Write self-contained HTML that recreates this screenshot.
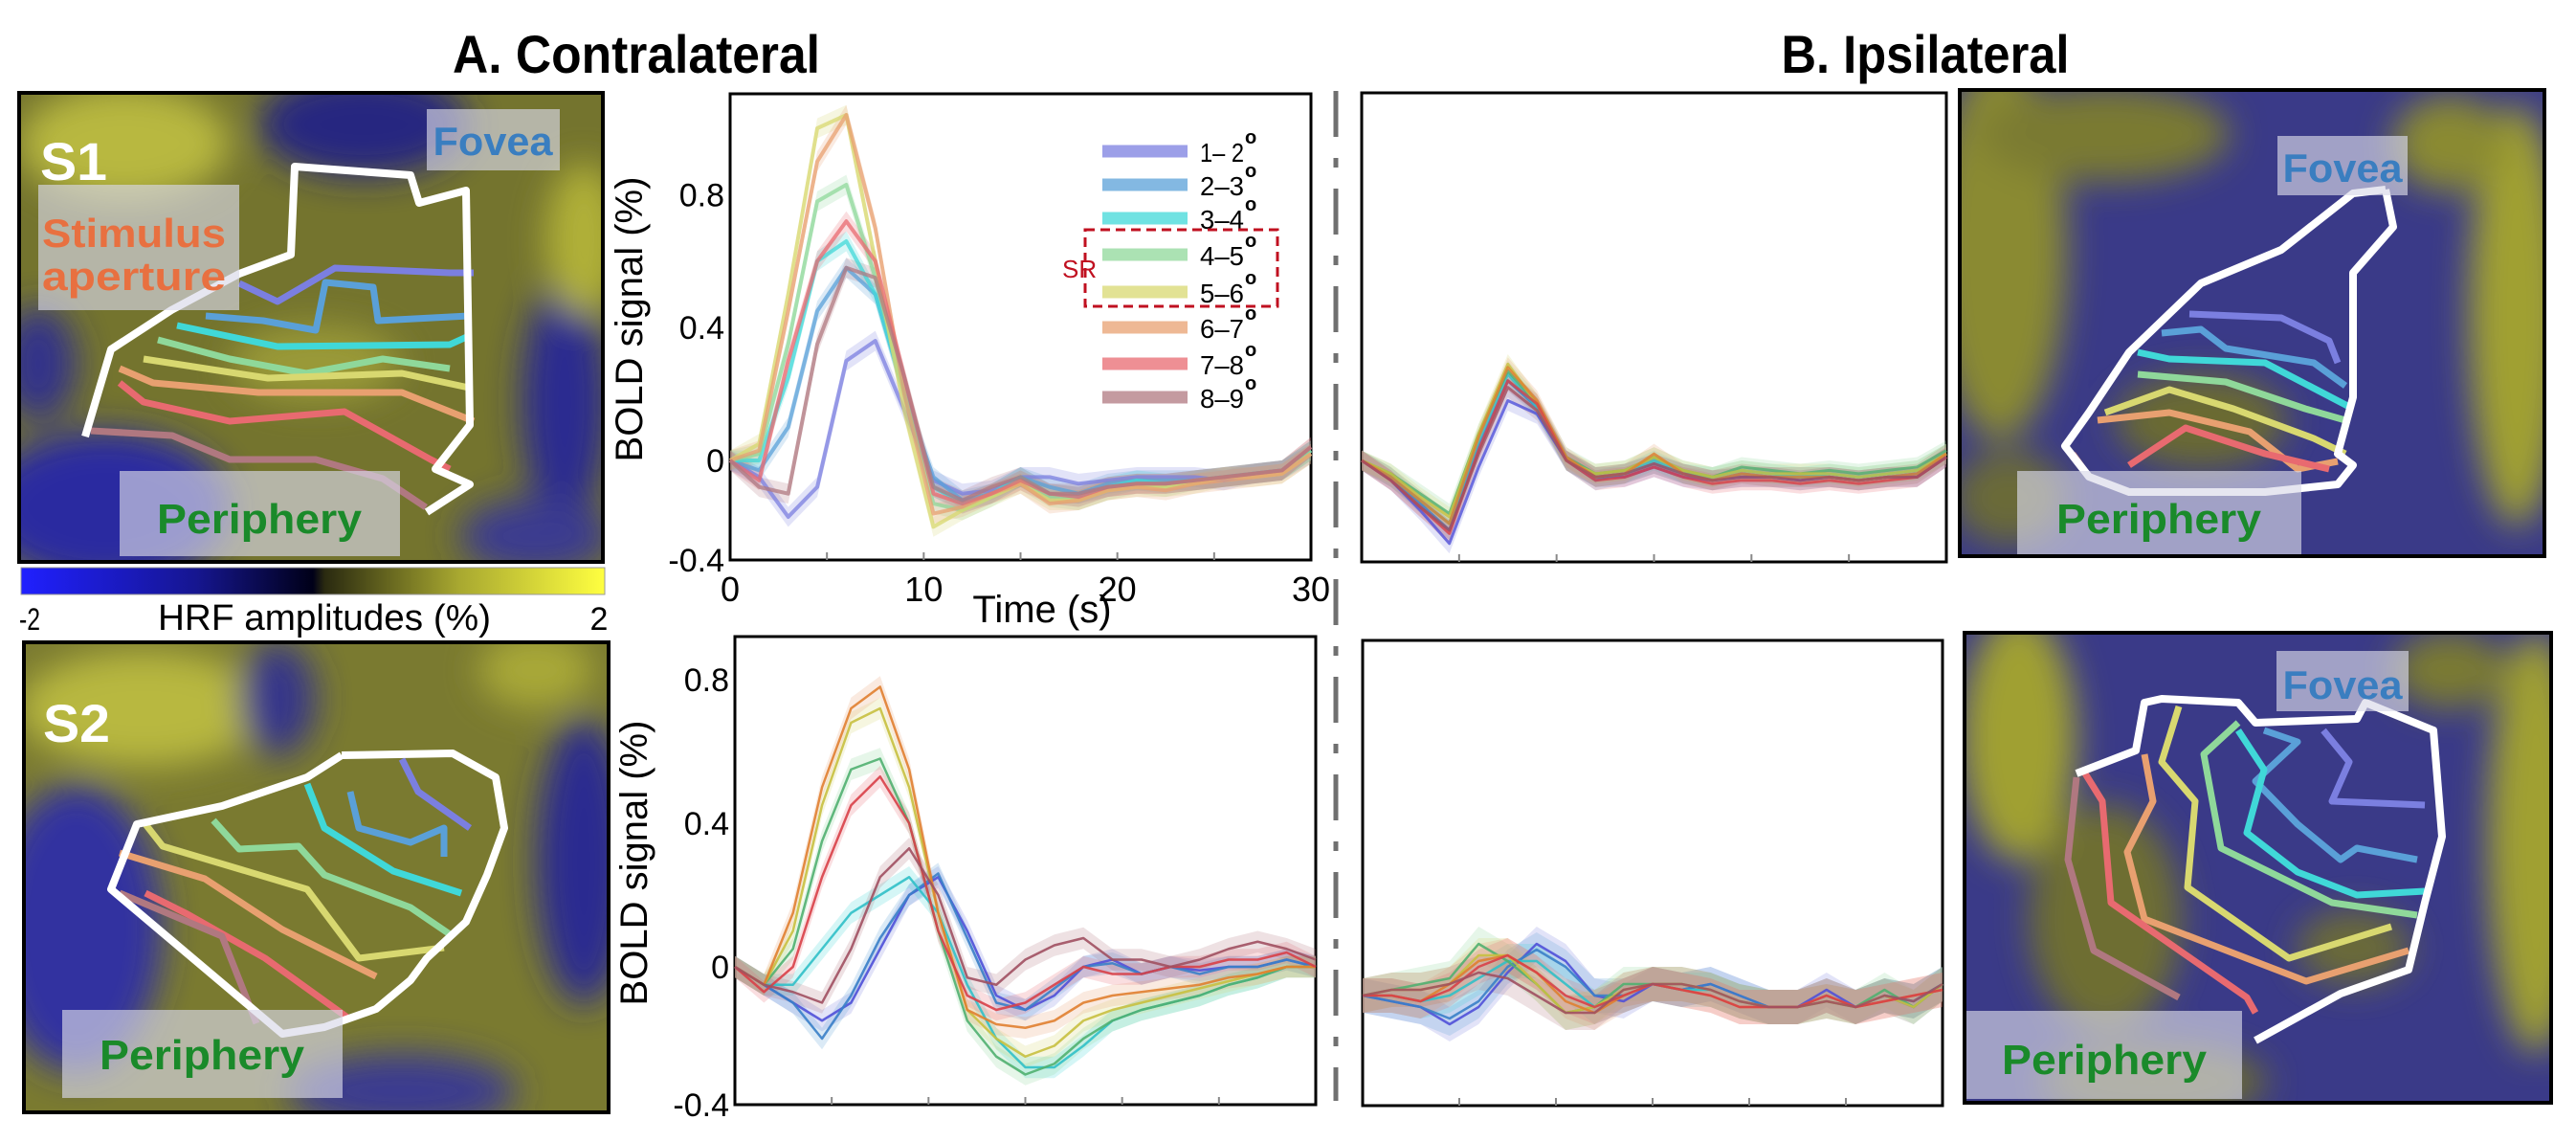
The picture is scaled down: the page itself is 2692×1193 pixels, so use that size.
<!DOCTYPE html>
<html><head><meta charset="utf-8">
<style>
html,body{margin:0;padding:0;background:#fff;}
svg{display:block;}
text{font-family:"Liberation Sans",sans-serif;}
</style></head>
<body>
<svg id="fig" width="2692" height="1193" viewBox="0 0 2692 1193" xmlns="http://www.w3.org/2000/svg">
<defs>
<filter id="blur" x="-50%" y="-50%" width="200%" height="200%"><feGaussianBlur stdDeviation="18"/></filter>
<clipPath id="c1"><rect x="20" y="97" width="610" height="490"/></clipPath>
<clipPath id="c2"><rect x="25" y="671" width="611" height="491"/></clipPath>
<clipPath id="c3"><rect x="2048" y="94" width="611" height="487"/></clipPath>
<clipPath id="c4"><rect x="2053" y="661" width="613" height="491"/></clipPath>
<linearGradient id="cbar" x1="0" x2="1" y1="0" y2="0">
<stop offset="0" stop-color="#2020ff"/><stop offset="0.3" stop-color="#161690"/><stop offset="0.5" stop-color="#000018"/><stop offset="0.52" stop-color="#2a2a10"/><stop offset="0.75" stop-color="#a8a830"/><stop offset="1" stop-color="#ffff40"/>
</linearGradient>
</defs>
<text x="665" y="76" font-size="56" font-weight="bold" text-anchor="middle" textLength="384" lengthAdjust="spacingAndGlyphs">A. Contralateral</text>
<text x="2012" y="76" font-size="56" font-weight="bold" text-anchor="middle" textLength="301" lengthAdjust="spacingAndGlyphs">B. Ipsilateral</text>
<line x1="1396" y1="95" x2="1396" y2="1150" stroke="#707070" stroke-width="5" stroke-dasharray="48,22,10,22"/>
<g id="maps"></g>
<g id="charts"></g>
<rect x="22" y="593" width="610" height="28" fill="url(#cbar)" stroke="#999" stroke-width="1"/>
<text x="20" y="658" font-size="32" textLength="22" lengthAdjust="spacingAndGlyphs">-2</text>
<text x="339" y="658" font-size="38" text-anchor="middle" textLength="348" lengthAdjust="spacingAndGlyphs">HRF amplitudes (%)</text>
<text x="626" y="658" font-size="34" text-anchor="middle">2</text>
</svg>
<script>
// ---- Data ----
const times = [0,1.5,3,4.5,6,7.5,9,10.5,12,13.5,15,16.5,18,19.5,21,22.5,24,25.5,27,28.5,30];
const eccLabels = ['1– 2','2–3','3–4','4–5','5–6','6–7','7–8','8–9'];
const xTicks = [0,10,20,30];
const yTicks = [-0.4,0,0.4,0.8];

const topContra1 = [0,-0.05,-0.17,-0.08,0.3,0.36,0.15,-0.06,-0.1,-0.09,-0.05,-0.05,-0.07,-0.06,-0.05,-0.05,-0.05,-0.06,-0.04,-0.03,0.02];
const topContra2 = [0,-0.03,0.1,0.45,0.58,0.5,0.2,-0.05,-0.12,-0.1,-0.05,-0.08,-0.1,-0.07,-0.06,-0.06,-0.06,-0.05,-0.04,-0.03,0.03];
const topContra3 = [0,0,0.25,0.6,0.66,0.5,0.2,-0.08,-0.13,-0.1,-0.05,-0.1,-0.11,-0.08,-0.06,-0.07,-0.06,-0.05,-0.04,-0.03,0.03];
const topContra4 = [0,0.02,0.35,0.78,0.83,0.55,0.2,-0.13,-0.15,-0.11,-0.06,-0.11,-0.12,-0.09,-0.07,-0.08,-0.06,-0.05,-0.04,-0.03,0.03];
const topContra5 = [0,0.05,0.5,1.0,1.04,0.6,0.15,-0.2,-0.15,-0.11,-0.07,-0.12,-0.12,-0.09,-0.08,-0.08,-0.07,-0.05,-0.05,-0.04,0.02];
const topContra6 = [0,0.03,0.45,0.9,1.04,0.7,0.2,-0.16,-0.14,-0.1,-0.07,-0.13,-0.12,-0.09,-0.08,-0.09,-0.07,-0.06,-0.05,-0.04,0.02];
const topContra7 = [0,-0.06,0.3,0.6,0.72,0.6,0.25,-0.1,-0.13,-0.1,-0.06,-0.1,-0.11,-0.08,-0.07,-0.07,-0.06,-0.05,-0.04,-0.03,0.04];
const topContra8 = [0,-0.08,-0.1,0.35,0.58,0.55,0.25,-0.08,-0.12,-0.08,-0.05,-0.1,-0.1,-0.08,-0.07,-0.07,-0.06,-0.05,-0.04,-0.03,0.04];

const topIpsi1 = [0,-0.06,-0.15,-0.25,-0.02,0.18,0.14,0.0,-0.05,-0.05,-0.02,-0.05,-0.06,-0.05,-0.05,-0.06,-0.05,-0.06,-0.05,-0.05,0.01];
const topIpsi2 = [0,-0.05,-0.13,-0.21,0.04,0.24,0.16,0.0,-0.06,-0.04,-0.01,-0.04,-0.06,-0.04,-0.05,-0.05,-0.05,-0.06,-0.05,-0.04,0.02];
const topIpsi3 = [0,-0.05,-0.12,-0.19,0.06,0.26,0.16,0.0,-0.05,-0.04,0.0,-0.04,-0.05,-0.03,-0.04,-0.05,-0.04,-0.05,-0.04,-0.03,0.02];
const topIpsi4 = [0,-0.04,-0.1,-0.16,0.08,0.27,0.17,0.01,-0.04,-0.03,0.01,-0.03,-0.05,-0.02,-0.03,-0.04,-0.03,-0.04,-0.03,-0.02,0.03];
const topIpsi5 = [0,-0.04,-0.11,-0.17,0.08,0.29,0.17,0.0,-0.04,-0.03,0.01,-0.03,-0.05,-0.03,-0.04,-0.04,-0.04,-0.05,-0.04,-0.03,0.02];
const topIpsi6 = [0,-0.05,-0.12,-0.19,0.07,0.28,0.18,0.01,-0.05,-0.04,0.02,-0.04,-0.06,-0.04,-0.05,-0.05,-0.05,-0.06,-0.05,-0.04,0.02];
const topIpsi7 = [0,-0.06,-0.14,-0.22,0.03,0.24,0.17,0.0,-0.06,-0.05,-0.02,-0.05,-0.07,-0.06,-0.06,-0.07,-0.06,-0.07,-0.06,-0.05,0.01];
const topIpsi8 = [0,-0.06,-0.14,-0.21,0.02,0.22,0.15,0.0,-0.05,-0.04,-0.01,-0.04,-0.06,-0.05,-0.05,-0.06,-0.05,-0.06,-0.05,-0.05,0.01];

const botContra1 = [0,-0.05,-0.1,-0.15,-0.1,0.05,0.2,0.25,0.1,-0.08,-0.12,-0.08,0.0,0.02,-0.02,0.0,-0.01,0.0,0.0,0.02,0.0];
const botContra2 = [0,-0.05,-0.1,-0.2,-0.08,0.08,0.2,0.26,0.08,-0.1,-0.12,-0.06,0.0,0.01,-0.02,0.0,-0.02,0.0,0.0,0.02,0.0];
const botContra3 = [0,-0.05,-0.05,0.05,0.15,0.2,0.25,0.15,-0.05,-0.2,-0.28,-0.28,-0.22,-0.15,-0.12,-0.1,-0.08,-0.05,-0.03,0.0,0.0];
const botContra4 = [0,-0.05,0.05,0.35,0.55,0.58,0.4,0.1,-0.15,-0.25,-0.3,-0.27,-0.2,-0.15,-0.12,-0.1,-0.08,-0.05,-0.03,0.0,0.0];
const botContra5 = [0,-0.05,0.1,0.45,0.68,0.72,0.5,0.15,-0.12,-0.2,-0.25,-0.22,-0.15,-0.12,-0.1,-0.08,-0.06,-0.04,-0.02,0.0,0.0];
const botContra6 = [0,-0.05,0.15,0.5,0.72,0.78,0.55,0.15,-0.12,-0.16,-0.17,-0.15,-0.1,-0.08,-0.07,-0.06,-0.05,-0.03,-0.02,0.0,0.0];
const botContra7 = [0,-0.07,0.0,0.25,0.45,0.53,0.4,0.1,-0.08,-0.12,-0.1,-0.05,0.0,-0.02,-0.02,0.0,0.0,0.02,0.02,0.04,0.0];
const botContra8 = [0,-0.05,-0.07,-0.1,0.05,0.25,0.33,0.2,-0.03,-0.05,0.02,0.06,0.08,0.02,0.02,0.0,0.02,0.05,0.07,0.05,0.02];

const botIpsi1 = [0,-0.01,-0.02,-0.05,-0.02,0.04,0.09,0.06,0.0,-0.01,0.02,0.01,0.02,0.0,-0.02,-0.02,0.01,-0.02,0.0,-0.02,0.02];
const botIpsi2 = [0,-0.01,-0.02,-0.04,-0.01,0.05,0.08,0.05,0.0,0.0,0.02,0.01,0.02,0.0,-0.02,-0.02,0.0,-0.02,0.0,-0.01,0.02];
const botIpsi3 = [0,0.0,-0.01,0.0,0.03,0.06,0.06,0.02,-0.02,0.0,0.02,0.01,0.01,-0.01,-0.02,-0.02,0.0,-0.02,0.0,-0.01,0.02];
const botIpsi4 = [0,0.01,0.02,0.03,0.09,0.06,0.02,-0.03,-0.02,0.02,0.02,0.02,0.01,-0.01,-0.02,-0.02,-0.01,-0.02,0.01,-0.02,0.02];
const botIpsi5 = [0,0.01,0.01,0.02,0.07,0.07,0.02,-0.03,-0.02,0.01,0.02,0.02,0.01,-0.01,-0.02,-0.02,-0.01,-0.02,0.0,-0.02,0.02];
const botIpsi6 = [0,0.0,-0.01,0.02,0.06,0.07,0.04,-0.01,-0.03,0.0,0.02,0.01,0.0,-0.02,-0.02,-0.02,0.0,-0.02,-0.01,0.0,0.01];
const botIpsi7 = [0,0.0,-0.01,0.01,0.05,0.07,0.04,0.0,-0.02,0.0,0.02,0.01,0.0,-0.02,-0.02,-0.02,0.0,-0.02,-0.01,0.0,0.01];
const botIpsi8 = [0,0.01,0.01,0.02,0.04,0.03,0.0,-0.03,-0.03,0.01,0.02,0.02,0.01,-0.01,-0.02,-0.02,-0.01,-0.02,0.0,-0.01,0.02];

const NS='http://www.w3.org/2000/svg';
const bandColors=['#7b7fe0','#5aa0d8','#40d8d8','#8fd89a','#d8d870','#e8a070','#e86a70','#b07880'];
const lineColors=['#5050d8','#3a80c8','#30c0c8','#50b070','#c8c040','#e08030','#d84048','#a05060'];
function mk(tag,attrs,parent){const e=document.createElementNS(NS,tag);for(const k in attrs)e.setAttribute(k,attrs[k]);if(parent)parent.appendChild(e);return e;}

const charts=[
 {name:'top-contralateral-chart',series:[topContra1,topContra2,topContra3,topContra4,topContra5,topContra6,topContra7,topContra8],x0:763,x1:1370,top:98,bottom:585,zero:481,ppu:347,labels:true,legend:true,lw:4,lop:0.75},
 {name:'top-ipsilateral-chart',series:[topIpsi1,topIpsi2,topIpsi3,topIpsi4,topIpsi5,topIpsi6,topIpsi7,topIpsi8],x0:1423,x1:2034,top:97,bottom:587,zero:481,ppu:347,labels:false,lw:3,lop:0.8},
 {name:'bottom-contralateral-chart',series:[botContra1,botContra2,botContra3,botContra4,botContra5,botContra6,botContra7,botContra8],x0:768,x1:1375,top:665,bottom:1154,zero:1010,ppu:375,labels:true,noX:true,lw:2.5,lop:0.9},
 {name:'bottom-ipsilateral-chart',series:[botIpsi1,botIpsi2,botIpsi3,botIpsi4,botIpsi5,botIpsi6,botIpsi7,botIpsi8],x0:1424,x1:2030,top:669,bottom:1155,zero:1040,ppu:600,labels:false,lw:2.5,lop:0.9}
];
const chartsG=document.getElementById('charts');
charts.forEach(c=>{
 const g=mk('g',{},chartsG);
 
 
 const xs=t=>c.x0+(c.x1-c.x0)*t/30;
 const ys=v=>c.zero-v*c.ppu;
 const box=mk('rect',{x:c.x0,y:c.top,width:c.x1-c.x0,height:c.bottom-c.top,fill:'#fff',stroke:'#000','stroke-width':3},g);
 
 
 for(let t=5;t<30;t+=5){
  const tk=mk('line',{x1:xs(t),x2:xs(t),y1:c.bottom,y2:c.bottom-8,stroke:'#888','stroke-width':2},g);
  
  
 }
 c.series.forEach((s,i)=>{
  const up=s.map((v,k)=>xs(times[k])+','+ys(v+0.03)).join(' ');
  const dn=s.map((v,k)=>xs(times[k])+','+ys(v-0.03)).reverse().join(' ');
  const band=mk('polygon',{points:up+' '+dn,fill:bandColors[i],'fill-opacity':0.22},g);
  
  
 });
 c.series.forEach((s,i)=>{
  const pts=s.map((v,k)=>xs(times[k])+','+ys(v)).join(' ');
  const ln=mk('polyline',{points:pts,fill:'none',stroke:c.legend?bandColors[i]:lineColors[i],'stroke-width':c.lw,'stroke-opacity':c.lop,'stroke-linejoin':'round'},g);
  
  
 });
 if(c.labels){
  yTicks.forEach(v=>{
   const y=Math.min(ys(v),c.bottom);
   const tl=mk('text',{x:c.x0-6,y:y+12,'font-size':34,'text-anchor':'end'},g);
   tl.textContent=String(v);
   
   
  });
  const yl=mk('text',{x:0,y:0,'font-size':40,'text-anchor':'middle',transform:`translate(${c.x0-92},${(c.top+c.bottom)/2-8}) rotate(-90)`},g);
  yl.textContent='BOLD signal (%)';
  
  
 }
 if(c.labels&&!c.noX){
  xTicks.forEach(t=>{
   const xl=mk('text',{x:xs(t),y:c.bottom+43,'font-size':36,'text-anchor':'middle'},g);
   xl.textContent=String(t);
   
   
  });
  const xt=mk('text',{x:1089,y:c.bottom+65,'font-size':40,'text-anchor':'middle'},g);
  xt.textContent='Time (s)';
  
  
 }
 if(c.legend){
  const lg=mk('g',{},g);
  
  
  const ly=[158,193,228,266,305,342,380,415];
  eccLabels.forEach((l,i)=>{
   const e=mk('g',{},lg);
   
   
   mk('line',{x1:1152,x2:1241,y1:ly[i],y2:ly[i],stroke:bandColors[i],'stroke-width':13,'stroke-opacity':0.75},e);
   const t=mk('text',{x:1254,y:ly[i]+11,'font-size':28,textLength:46,lengthAdjust:'spacingAndGlyphs'},e);
   t.textContent=l;
   const d=mk('text',{x:1301,y:ly[i]-8,'font-size':20,'font-weight':'bold'},e);
   d.textContent='o';
  });
  const sr=mk('rect',{x:1134,y:240,width:201,height:80,fill:'none',stroke:'#c01020','stroke-width':3,'stroke-dasharray':'10,6'},lg);
  
  
  const srt=mk('text',{x:1110,y:290,'font-size':26,fill:'#c01020'},lg);
  srt.textContent='SR';
  
  
 }
});

// ---- Maps ----
const mapsG=document.getElementById('maps');
const maps=[
 {name:'s1-map',clip:'c1',x:20,y:97,w:610,h:490,base:'#74742e',
  blobs:[[380,130,110,55,'#262680'],[110,530,130,80,'#2a2aa0'],[590,420,45,130,'#2a2a90'],[40,380,40,60,'#30308a'],[130,150,110,60,'#b8b840'],[610,250,40,80,'#b0b038'],[330,380,90,40,'#9a9a38'],[560,560,80,40,'#3a3a90']],
  outline:[[89,456],[116,365],[179,324],[250,286],[304,266],[308,174],[429,183],[438,212],[487,199],[491,444],[455,490],[491,506],[446,535]],
  lines:[[[250,296],[290,315],[350,280],[470,285],[495,285]],[[215,330],[275,335],[330,345],[340,295],[390,300],[395,335],[490,330]],[[185,340],[290,362],[470,360],[492,350]],[[165,355],[240,375],[320,390],[400,375],[470,385]],[[150,375],[280,395],[420,390],[490,405]],[[125,385],[160,400],[270,410],[420,410],[495,440]],[[125,400],[150,420],[240,440],[360,430],[450,480],[470,490]],[[95,450],[180,455],[240,480],[330,480],[400,500],[445,530]]],
  labels:[['S1',42,188,'#fff',56,null,70],['Fovea',515,162,'#3a7ec0',42,[446,114,139,64],125],['Stimulus',140,258,'#e87040',42,[40,193,210,131],192],['aperture',140,303,'#e87040',42,null,192],['Periphery',271,557,'#1a8a2a',44,[125,492,293,89],214]]},
 {name:'s2-map',clip:'c2',x:25,y:671,w:611,h:491,base:'#7a7a30',
  blobs:[[150,740,130,60,'#b8b840'],[80,970,90,150,'#3030a0'],[610,900,50,150,'#2a2a90'],[290,730,40,60,'#34348a'],[420,1140,120,40,'#3a3a90'],[560,700,60,40,'#a8a838']],
  outline:[[357,789],[473,787],[518,812],[527,865],[509,914],[487,963],[446,1001],[429,1024],[393,1054],[339,1073],[295,1080],[116,929],[143,861],[232,842],[321,812],[357,789]],
  lines:[[[420,793],[437,827],[491,865]],[[366,827],[375,865],[429,880],[464,865],[464,895]],[[321,819],[339,865],[411,910],[482,933]],[[223,857],[250,887],[312,884],[339,914],[429,948],[473,978]],[[152,861],[170,884],[321,929],[375,1001],[464,990]],[[125,891],[214,918],[295,971],[393,1020]],[[152,933],[196,955],[277,1001],[366,1065]],[[125,933],[232,978],[268,1069]]],
  labels:[['S2',45,775,'#fff',56,null,70],['Periphery',211,1117,'#1a8a2a',44,[65,1055,293,92],214]]},
 {name:'top-right-map',clip:'c3',x:2048,y:94,w:611,h:487,base:'#3a3a88',
  blobs:[[2090,260,70,200,'#8a8a30'],[2200,140,130,50,'#7a7a30'],[2630,330,50,220,'#a0a030'],[2300,440,90,50,'#6a6a30'],[2560,150,60,50,'#8a8a30'],[2100,520,60,50,'#6a6a38']],
  outline:[[2493,198],[2501,237],[2459,285],[2459,415],[2443,474],[2459,486],[2443,506],[2367,514],[2225,514],[2183,498],[2158,466],[2183,431],[2225,368],[2300,296],[2384,261],[2459,202],[2493,198]],
  lines:[[[2288,328],[2384,332],[2434,356],[2443,379]],[[2259,348],[2300,344],[2326,364],[2418,379],[2451,403]],[[2234,368],[2267,375],[2367,379],[2459,427]],[[2234,391],[2326,399],[2409,427],[2451,439]],[[2200,431],[2267,407],[2334,427],[2418,458],[2451,474]],[[2192,439],[2267,431],[2351,451],[2401,490],[2443,482]],[[2225,486],[2284,447],[2367,474],[2434,490]],[[2166,474],[2183,498],[2225,514]]],
  labels:[['Fovea',2448,190,'#3a7ec0',42,[2380,142,136,62],125],['Periphery',2256,557,'#1a8a2a',44,[2108,492,297,87],214]]},
 {name:'bottom-right-map',clip:'c4',x:2053,y:661,w:613,h:491,base:'#3a3a88',
  blobs:[[2110,770,60,130,'#a0a030'],[2200,960,80,120,'#6e6e30'],[2650,880,50,220,'#a0a030'],[2250,1130,120,40,'#6a6a30'],[2560,700,60,40,'#7a7a30'],[2460,990,60,40,'#6a6a38']],
  outline:[[2170,808],[2232,784],[2241,734],[2259,730],[2339,734],[2357,755],[2463,751],[2472,734],[2543,763],[2552,874],[2534,943],[2517,1013],[2446,1038],[2357,1087]],
  lines:[[[2428,763],[2455,796],[2437,837],[2534,841]],[[2366,763],[2401,775],[2357,816],[2401,861],[2446,898],[2463,886],[2526,898]],[[2339,763],[2366,804],[2348,870],[2401,911],[2463,935],[2534,931]],[[2339,755],[2303,788],[2321,886],[2437,943],[2526,956]],[[2277,738],[2259,796],[2294,837],[2286,927],[2392,1001],[2499,968]],[[2241,788],[2250,837],[2223,890],[2241,960],[2410,1025],[2517,993]],[[2179,808],[2197,837],[2206,943],[2348,1042],[2357,1058]],[[2170,812],[2161,898],[2188,993],[2277,1042]]],
  labels:[['Fovea',2448,730,'#3a7ec0',42,[2379,680,138,63],125],['Periphery',2199,1122,'#1a8a2a',44,[2055,1056,288,92],214]]}
];
maps.forEach(m=>{
 const g=mk('g',{},mapsG);
 
 
 const inner=mk('g',{'clip-path':'url(#'+m.clip+')'},g);
 mk('rect',{x:m.x,y:m.y,width:m.w,height:m.h,fill:m.base},inner);
 const bl=mk('g',{filter:'url(#blur)'},inner);
 m.blobs.forEach(b=>mk('ellipse',{cx:b[0],cy:b[1],rx:b[2],ry:b[3],fill:b[4]},bl));
 m.lines.forEach((ln,i)=>{
  const p=mk('polyline',{points:ln.map(q=>q.join(',')).join(' '),fill:'none',stroke:bandColors[i],'stroke-width':7,'stroke-linejoin':'round'},inner);
  
  
 });
 const o=mk('polyline',{points:m.outline.map(q=>q.join(',')).join(' '),fill:'none',stroke:'#fff','stroke-width':8,'stroke-linejoin':'round'},inner);
 
 
 m.labels.forEach(l=>{
  if(l[5]){
   const r=mk('rect',{x:l[5][0],y:l[5][1],width:l[5][2],height:l[5][3],fill:'#d8d8e8','fill-opacity':0.65},inner);
   
   
  }
 });
 m.labels.forEach(l=>{
  const isS=l[0].length===2&&l[0][0]==='S';
  const t=mk('text',{x:l[1],y:l[2],fill:l[3],'font-size':l[4],'font-weight':'bold','text-anchor':isS?'start':'middle',textLength:l[6],lengthAdjust:'spacingAndGlyphs'},inner);
  t.textContent=l[0];
  
  
 });
 mk('rect',{x:m.x,y:m.y,width:m.w,height:m.h,fill:'none',stroke:'#000','stroke-width':4},g);
});
</script>
</body></html>
